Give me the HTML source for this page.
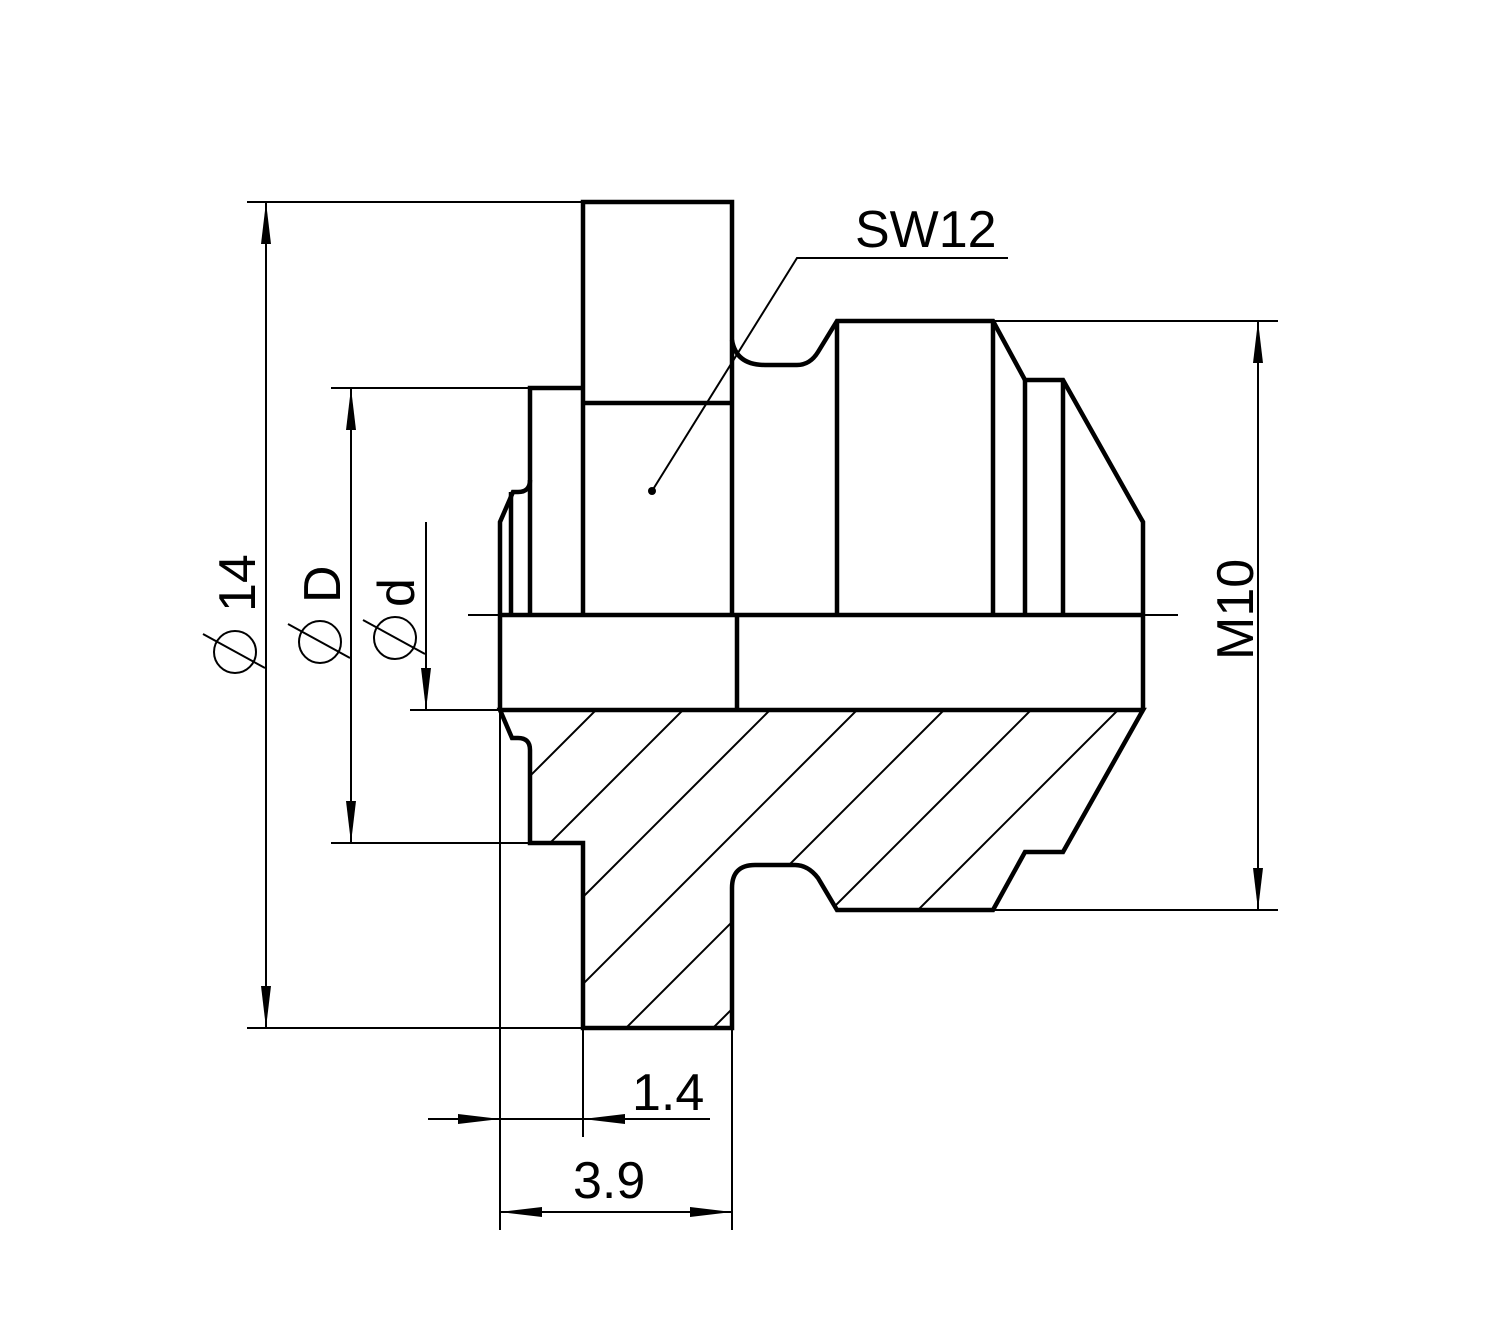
<!DOCTYPE html>
<html><head><meta charset="utf-8"><style>html,body{margin:0;padding:0;background:#fff;overflow:hidden}svg{display:block}</style></head>
<body>
<svg width="1488" height="1321" viewBox="0 0 1488 1321" xmlns="http://www.w3.org/2000/svg" font-family="Liberation Sans, sans-serif">
<defs>
<clipPath id="sec"><path d="M500,710 L1143,710 L1063,852 L1025,852 L993,910 L837,910 L818,878 Q808,865 795,865 L755,865 Q732,865 732,888 L732,1028 L583,1028 L583,843 L530,843 L530,745 Q530,738 520,738 L512,738 Z"/></clipPath>
</defs>
<rect width="1488" height="1321" fill="#fff"/>
<g clip-path="url(#sec)" stroke="#000" stroke-width="2">
<line x1="1306" y1="0" x2="0" y2="1306"/>
<line x1="1393" y1="0" x2="0" y2="1393"/>
<line x1="1480" y1="0" x2="0" y2="1480"/>
<line x1="1567" y1="0" x2="0" y2="1567"/>
<line x1="1654" y1="0" x2="0" y2="1654"/>
<line x1="1741" y1="0" x2="0" y2="1741"/>
<line x1="1828" y1="0" x2="0" y2="1828"/>
<line x1="1915" y1="0" x2="0" y2="1915"/>
<line x1="2002" y1="0" x2="0" y2="2002"/>
</g>
<g stroke="#000" stroke-width="2" fill="none">
<line x1="247" y1="202" x2="583" y2="202"/>
<line x1="247" y1="1028" x2="583" y2="1028"/>
<line x1="266" y1="202" x2="266" y2="1028"/>
<line x1="331" y1="388" x2="530" y2="388"/>
<line x1="331" y1="843" x2="530" y2="843"/>
<line x1="351" y1="388" x2="351" y2="843"/>
<line x1="410" y1="710" x2="500" y2="710"/>
<line x1="426" y1="522" x2="426" y2="710"/>
<line x1="993" y1="321" x2="1278" y2="321"/>
<line x1="993" y1="910" x2="1278" y2="910"/>
<line x1="1258" y1="321" x2="1258" y2="910"/>
<line x1="468" y1="615" x2="1178" y2="615"/>
<line x1="500" y1="710" x2="500" y2="1230"/>
<line x1="583" y1="1028" x2="583" y2="1137"/>
<line x1="732" y1="1028" x2="732" y2="1230"/>
<line x1="428" y1="1119" x2="710" y2="1119"/>
<line x1="500" y1="1212" x2="732" y2="1212"/>
<polyline points="652,491 797,258 1008,258"/>
<circle cx="235" cy="652" r="21"/><line x1="203" y1="634" x2="265" y2="668"/>
<circle cx="320" cy="642" r="21"/><line x1="288" y1="624" x2="350" y2="658"/>
<circle cx="395" cy="638" r="21"/><line x1="363" y1="620" x2="425" y2="654"/>
</g>
<circle cx="652" cy="491" r="4"/>
<g fill="#000">
<polygon points="266,202 261,244 271,244"/>
<polygon points="266,1028 261,986 271,986"/>
<polygon points="351,388 346,430 356,430"/>
<polygon points="351,843 346,801 356,801"/>
<polygon points="426,710 421,668 431,668"/>
<polygon points="1258,321 1253,363 1263,363"/>
<polygon points="1258,910 1253,868 1263,868"/>
<polygon points="500,1119 458,1114 458,1124"/>
<polygon points="583,1119 625,1114 625,1124"/>
<polygon points="500,1212 542,1207 542,1217"/>
<polygon points="732,1212 690,1207 690,1217"/>
</g>
<g stroke="#000" stroke-width="4.5" fill="none" stroke-linejoin="miter">
<polyline points="583,615 583,202 732,202 732,340"/>
<path d="M732,340 Q736,365 765,365 L797,365 Q810,365 818,352 L837,321 L993,321 L1025,380 L1063,380 L1143,522 L1143,710"/>
<line x1="583" y1="403" x2="732" y2="403"/>
<line x1="732" y1="340" x2="732" y2="615"/>
<polyline points="583,388 530,388 530,615"/>
<path d="M530,480 Q530,492 518,492 L513,492 L500,522 L500,710"/>
<line x1="511" y1="492" x2="511" y2="615"/>
<line x1="837" y1="321" x2="837" y2="615"/>
<line x1="993" y1="321" x2="993" y2="615"/>
<line x1="1025" y1="380" x2="1025" y2="615"/>
<line x1="1063" y1="380" x2="1063" y2="615"/>
<line x1="500" y1="615" x2="1143" y2="615"/>
<line x1="737" y1="615" x2="737" y2="710"/>
<path d="M500,710 L1143,710 L1063,852 L1025,852 L993,910 L837,910 L818,878 Q808,865 795,865 L755,865 Q732,865 732,888 L732,1028 L583,1028 L583,843 L530,843 L530,750 Q530,738 518,738 L512,738 Z"/>
</g>
<g font-size="52" fill="#000">
<text x="855" y="247">SW12</text>
<text x="632" y="1110">1.4</text>
<text x="573" y="1198">3.9</text>
<text transform="translate(255,612) rotate(-90)">14</text>
<text transform="translate(340,603) rotate(-90)">D</text>
<text transform="translate(414,607) rotate(-90)">d</text>
<text transform="translate(1253,660) rotate(-90)">M10</text>
</g>
</svg>
</body></html>
